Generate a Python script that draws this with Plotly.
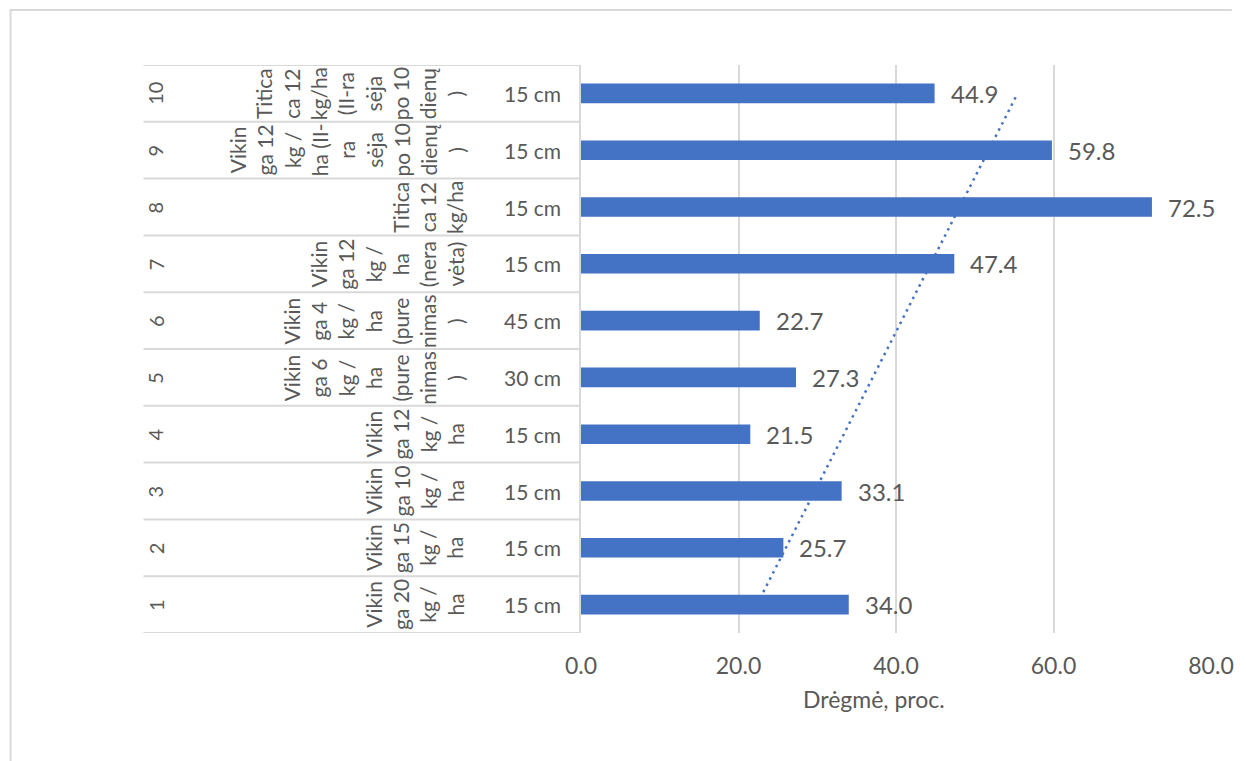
import numpy as np
import plotly.graph_objects as go

# ---- data ----
row_numbers = ["1", "2", "3", "4", "5", "6", "7", "8", "9", "10"]
treatments = [
    ["Vikin", "ga 20", "kg /", "ha"],
    ["Vikin", "ga 15", "kg /", "ha"],
    ["Vikin", "ga 10", "kg /", "ha"],
    ["Vikin", "ga 12", "kg /", "ha"],
    ["Vikin", "ga 6", "kg /", "ha", "(pure", "nimas", ")"],
    ["Vikin", "ga 4", "kg /", "ha", "(pure", "nimas", ")"],
    ["Vikin", "ga 12", "kg /", "ha", "(nera", "vėta)"],
    ["Titica", "ca 12", "kg/ha"],
    ["Vikin", "ga 12", "kg /", "ha (II-", "ra", "sėja", "po 10", "dienų", ")"],
    ["Titica", "ca 12", "kg/ha", "(II-ra", "sėja", "po 10", "dienų", ")"],
]
row_spacing = ["15 cm", "15 cm", "15 cm", "15 cm", "30 cm", "45 cm", "15 cm", "15 cm", "15 cm", "15 cm"]
moisture = [34.0, 25.7, 33.1, 21.5, 27.3, 22.7, 47.4, 72.5, 59.8, 44.9]
x_ticks = [0, 20, 40, 60, 80]
x_title = "Drėgmė, proc."

# ---- styling ----
W, H = 1246, 761
L, R, T, B = 581, 30, 65, 128
BLUE = "#4472C4"
GRID = "#D9D9D9"
TXT = "#595959"
FONT = "Lato"

def px_x(p):
    return (p - L) / (W - L - R)

def px_y(p):
    return (H - B - p) / (H - T - B)

pos = list(range(1, len(row_numbers) + 1))

# linear trendline (as Excel's linear trend on category index)
slope, intercept = np.polyfit(pos, moisture, 1)
trend_y = [pos[0], pos[-1]]
trend_x = [slope * p + intercept for p in trend_y]

fig = go.Figure()

# trendline on the base subplot (drawn beneath bars)
fig.add_trace(go.Scatter(
    x=trend_x, y=trend_y, mode="lines",
    line=dict(color=BLUE, width=2.5, dash="2.5px,4.5px"),
    hoverinfo="skip", showlegend=False, xaxis="x", yaxis="y",
))

# bars on overlay axis (drawn on top)
fig.add_trace(go.Bar(
    x=moisture, y=pos, orientation="h", width=0.345,
    marker=dict(color=BLUE, line=dict(width=0)),
    showlegend=False, xaxis="x", yaxis="y2",
))

annotations = []
# data labels
for v, p in zip(moisture, pos):
    annotations.append(dict(
        x=v, y=p, xref="x", yref="y2", text=f"{v:.1f}",
        showarrow=False, xanchor="left", yanchor="middle", xshift=14,
        font=dict(family=FONT, size=24, color=TXT),
    ))
# category labels (three levels)
for p, num, tr, sp in zip(pos, row_numbers, treatments, row_spacing):
    annotations.append(dict(
        x=px_x(152), y=p, xref="paper", yref="y", text=num, textangle=-90,
        showarrow=False, xanchor="center", yanchor="middle",
        font=dict(family=FONT, size=20, color=TXT),
    ))
    annotations.append(dict(
        x=px_x(469), y=p, xref="paper", yref="y", text="<br>".join(tr), textangle=-90,
        showarrow=False, xanchor="right", yanchor="middle", align="center",
        font=dict(family=FONT, size=21, color=TXT),
    ))
    annotations.append(dict(
        x=px_x(532), y=p, xref="paper", yref="y", text=sp,
        showarrow=False, xanchor="center", yanchor="middle",
        font=dict(family=FONT, size=21, color=TXT),
    ))
# axis title
annotations.append(dict(
    x=px_x(876), y=px_y(699), xref="paper", yref="paper", text=x_title,
    showarrow=False, xanchor="center", yanchor="middle",
    font=dict(family=FONT, size=23, color=TXT),
))

shapes = []
# category table row separators
edges = [p - 0.5 for p in pos] + [pos[-1] + 0.5]
for e in edges:
    shapes.append(dict(
        type="line", xref="paper", yref="y", x0=px_x(140), x1=px_x(581), y0=e, y1=e,
        line=dict(color=GRID, width=2), layer="below",
    ))
# chart area border
shapes.append(dict(
    type="path", xref="paper", yref="paper",
    path=f"M {px_x(6)},{px_y(770)} L {px_x(6)},{px_y(10)} L {px_x(1237)},{px_y(10)}",
    line=dict(color=GRID, width=2),
))

yrange = [0.5, len(pos) + 0.5]
fig.update_layout(
    width=W, height=H,
    margin=dict(l=L, r=R, t=T, b=B, pad=0),
    paper_bgcolor="white", plot_bgcolor="white",
    showlegend=False,
    font=dict(family=FONT, color=TXT),
    xaxis=dict(
        range=[0, 80], tickvals=x_ticks, tickformat=".1f",
        showgrid=True, gridcolor=GRID, gridwidth=2,
        zeroline=False, showline=False, ticks="",
        tickfont=dict(family=FONT, size=23, color=TXT),
        ticklabelstandoff=17, fixedrange=True,
    ),
    yaxis=dict(
        range=yrange, showticklabels=False, showgrid=False, zeroline=False,
        showline=True, linecolor=GRID, linewidth=2, ticks="", fixedrange=True,
    ),
    yaxis2=dict(
        range=yrange, overlaying="y", showticklabels=False, showgrid=False,
        zeroline=False, showline=False, ticks="", fixedrange=True,
    ),
    annotations=annotations,
    shapes=shapes,
)

fig.write_html(
    "out.html",
    config={"displayModeBar": False},
    post_script="document.body.style.margin='0px';",
)
